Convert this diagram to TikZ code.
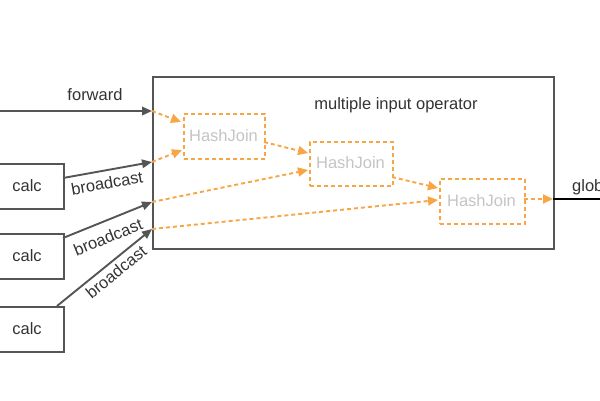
\documentclass[tikz,border=0pt]{standalone}
\usepackage{fontspec}
\setmainfont{Liberation Sans}
\usetikzlibrary{arrows.meta}
\definecolor{dk}{HTML}{555555}
\definecolor{og}{HTML}{F7A545}
\definecolor{lg}{HTML}{C4C4C4}
\begin{document}
\begin{tikzpicture}[x=1pt,y=-1pt,
  box/.style={draw=dk,line width=1.7pt,inner sep=0pt,anchor=north west},
  hj/.style={draw=og,dashed,dash pattern=on 4pt off 3pt,line width=1.9pt,inner sep=0pt,anchor=north west},
  garr/.style={draw=dk,line width=1.9pt,-{Triangle[length=10pt,width=8.5pt]}},
  oarr/.style={draw=og,line width=1.9pt,dash pattern=on 4pt off 3pt,-{Triangle[length=10pt,width=9pt]}},
  lbl/.style={text=black!80,font=\fontsize{16.5}{19}\selectfont,inner sep=0pt}]
\useasboundingbox (0,0) rectangle (600,400);
\clip (0,0) rectangle (600,400);
% big operator box
\node[box,minimum width=401pt,minimum height=172pt] (op) at (152,76) {};
\node[lbl] (opt) at (396,105) {multiple input operator};
% calc boxes
\node[box,minimum width=70pt,minimum height=45pt] (c1) at (-7,163) {};
\node[box,minimum width=70pt,minimum height=45pt] (c2) at (-7,233) {};
\node[box,minimum width=70pt,minimum height=45pt] (c3) at (-7,306) {};
\node[lbl] (c1t) at (27,186) {calc};
\node[lbl] (c2t) at (27,256) {calc};
\node[lbl] (c3t) at (27,329) {calc};
% hash joins
\node[hj,minimum width=81pt,minimum height=45pt] (h1) at (183,113) {};
\node[hj,minimum width=83pt,minimum height=44pt] (h2) at (309,141) {};
\node[hj,minimum width=85pt,minimum height=45pt] (h3) at (439,178) {};
\node[lbl,text=lg] (h1t) at (223.5,136) {HashJoin};
\node[lbl,text=lg] (h2t) at (350.5,163) {HashJoin};
\node[lbl,text=lg] (h3t) at (481.5,201) {HashJoin};
% entry points
\coordinate (fin) at (0,111);
\coordinate (p1) at (152,111);
\coordinate (p2) at (152,162);
\coordinate (p3) at (152,202);
\coordinate (p4) at (152,229);
\coordinate (s1) at (63,178);
\coordinate (s2) at (63,238);
\coordinate (s3) at (57,306);
\coordinate (q) at (553,199);
\coordinate (gout) at (610,199);
% gray arrows
\draw[garr] (fin) -- (p1);
\node[lbl] (fw) at (95,95) {forward};
\draw[garr] (s1) -- (p2);
\node[lbl,rotate=10] (b1) at (107,183) {broadcast};
\draw[garr] (s2) -- (p3);
\node[lbl,rotate=22] (b2) at (108,237) {broadcast};
\draw[garr] (s3) -- (p4);
\node[lbl,rotate=39] (b3) at (116,272) {broadcast};
% orange arrows
\draw[oarr] (p1) -- (181,122);
\draw[oarr] (p2) -- (182,150);
\draw[oarr] (264,142) -- (308,153);
\draw[oarr] (p3) -- (308,170);
\draw[oarr] (392,177) -- (438,188);
\draw[oarr] (p4) -- (438,200);
\draw[oarr] (524,199) -- (q);
% output
\draw[draw=black,line width=1.8pt] (q) -- (gout);
\node[lbl,anchor=west] (gl) at (572,187) {global};
\end{tikzpicture}
\end{document}
